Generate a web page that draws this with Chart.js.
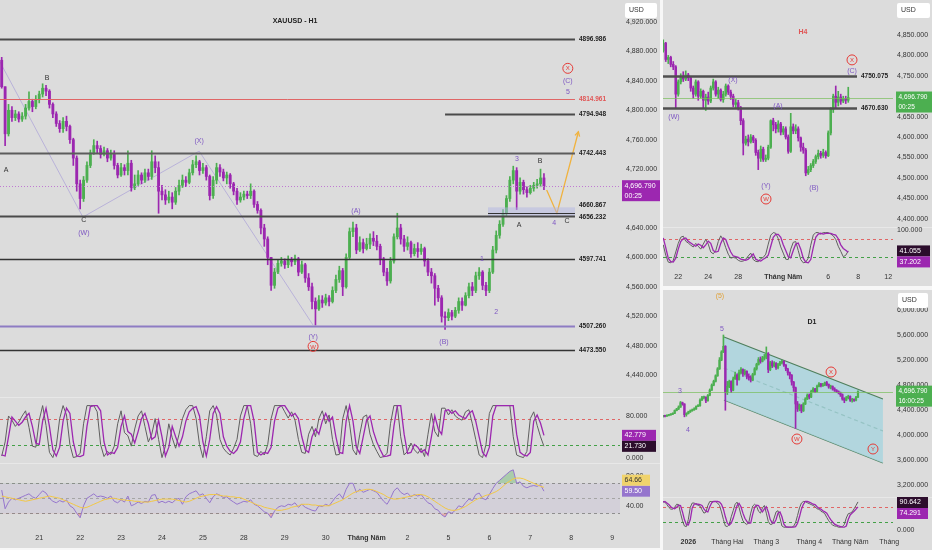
<!DOCTYPE html>
<html>
<head>
<meta charset="utf-8">
<title>XAUUSD</title>
<script src="https://cdn.jsdelivr.net/npm/chart.js@4.4.1/dist/chart.umd.min.js"></script>
<style>
  html, body { margin: 0; padding: 0; background: #fff; }
  #wrap { position: relative; width: 932px; height: 550px; overflow: hidden; background: #f7f7f7; }
  .pane { position: absolute; background: #dcdcdc; }
  .sep { position: absolute; height: 1px; background: #e8e8e8; }
  canvas { position: absolute; }
</style>
</head>
<body>
<div id="wrap">
  <div class="pane" style="left:0;top:0;width:660px;height:548px"></div>
  <div class="pane" style="left:663px;top:0;width:269px;height:286px"></div>
  <div class="pane" style="left:663px;top:290px;width:269px;height:260px"></div>
  <div class="sep" style="left:0;top:397px;width:660px"></div>
  <div class="sep" style="left:0;top:463px;width:660px"></div>
  <div class="sep" style="left:663px;top:227px;width:269px"></div>
  <div class="sep" style="left:663px;top:497px;width:269px"></div>
</div>
<script>
// ---------- H1 (main) ----------
const lastPrice = 4696.79;
const h1Open0 = 4868;
const h1Close = [4832,4768,4800,4790,4795,4788,4792,4803,4812,4805, 4815,4822,4830,4826,4808,4795,4782,4775,4785,4778,
  4760,4735,4700,4680,4705,4725,4742,4752,4748,4740, 4745,4735,4740,4725,4712,4722,4718,4728,4695,4700,
  4712,4705,4715,4710,4730,4722,4690,4685,4678,4682, 4675,4690,4698,4705,4702,4715,4726,4730,4718,4722,
  4710,4684,4705,4722,4716,4708,4712,4700,4690,4678, 4682,4686,4684,4690,4672,4664,4640,4625,4600,4562,
  4580,4592,4595,4590,4597,4594,4598,4580,4590,4572, 4560,4540,4530,4542,4538,4545,4540,4555,4570,4582,
  4560,4600,4635,4640,4610,4620,4612,4618,4626,4622, 4615,4598,4580,4568,4595,4628,4640,4625,4615,4620,
  4605,4612,4608,4612,4595,4580,4575,4558,4545,4520, 4518,4525,4520,4528,4540,4535,4548,4560,4555,4575,
  4580,4562,4555,4580,4610,4630,4645,4660,4680,4705, 4718,4690,4702,4692,4688,4694,4698,4700,4708,4696.79];
const h1High = [4872,4832,4808,4805,4800,4798,4797,4808,4825,4815, 4820,4826,4836,4834,4828,4810,4798,4786,4790,4792,
  4780,4762,4738,4705,4710,4730,4746,4760,4758,4752, 4750,4748,4746,4745,4728,4728,4726,4745,4732,4712,
  4718,4715,4720,4720,4745,4738,4730,4698,4692,4690, 4688,4695,4705,4712,4710,4720,4732,4738,4732,4728,
  4725,4712,4710,4728,4726,4720,4716,4714,4702,4694, 4688,4690,4690,4700,4692,4676,4666,4645,4628,4600,
  4585,4596,4600,4598,4602,4600,4603,4600,4595,4592, 4578,4565,4545,4548,4548,4550,4548,4560,4576,4588,
  4585,4605,4640,4648,4645,4628,4625,4626,4632,4635, 4630,4618,4600,4585,4600,4632,4660,4645,4630,4628,
  4622,4618,4620,4618,4614,4598,4585,4578,4562,4548, 4526,4530,4528,4532,4545,4545,4552,4565,4566,4580,
  4586,4582,4566,4585,4615,4636,4650,4665,4684,4710, 4724,4722,4708,4705,4696,4698,4702,4706,4720,4714];
const h1Low = [4830,4752,4765,4785,4786,4784,4785,4788,4800,4798, 4802,4810,4818,4820,4803,4790,4778,4770,4770,4772,
  4755,4725,4690,4666,4676,4702,4722,4740,4742,4735, 4738,4730,4732,4720,4708,4710,4712,4712,4690,4692,
  4698,4700,4702,4705,4706,4715,4660,4678,4672,4674, 4666,4672,4685,4695,4696,4700,4712,4722,4712,4714,
  4705,4678,4680,4700,4710,4704,4700,4694,4685,4672, 4675,4678,4680,4680,4668,4660,4632,4615,4590,4555,
  4558,4578,4588,4585,4586,4588,4590,4575,4578,4566, 4555,4530,4508,4528,4532,4535,4534,4538,4552,4566,
  4548,4558,4598,4628,4605,4608,4606,4610,4612,4616, 4610,4590,4575,4562,4565,4592,4625,4618,4608,4610,
  4600,4602,4600,4604,4588,4575,4565,4535,4540,4512, 4502,4514,4515,4518,4524,4528,4534,4545,4548,4552,
  4570,4556,4548,4552,4578,4606,4626,4642,4656,4676, 4700,4665,4686,4686,4682,4686,4690,4694,4696,4692];
const h1StochK = [3,30,80,72,60,68,80,90,58,22, 20,72,100,62,10,0,22,75,100,82, 25,0,2,8,65,100,100,100,88,25,
  2,12,6,22,65,90,48,42,22,55, 80,90,60,30,45,75,35,0,22,65, 38,18,45,75,92,100,100,75,25,0,
  40,90,100,82,35,18,10,5,18,35, 80,100,100,65,5,2,12,5,25,75, 100,100,100,88,76,88,72,35,10,8,
  45,60,40,75,90,65,82,35,5,6, 75,100,65,15,5,45,78,82,45,25, 12,0,2,8,65,100,100,40,5,12,
  28,15,8,18,2,45,85,50,40,95, 95,82,92,80,75,72,88,92,65,35, 5,0,25,85,100,100,100,100,100,100,
  40,5,2,0,12,75,88,62,40,21.73];
const h1StochD = [5,3,40,78,70,62,68,78,85,60, 28,25,70,95,60,15,3,20,70,95, 85,30,3,2,5,60,98,100,100,90,
  30,5,10,8,20,60,80,50,45,28, 50,75,85,65,35,40,72,40,3,20, 60,40,22,40,70,88,95,98,80,30,
  3,35,85,98,85,40,22,12,8,15, 30,75,100,100,70,10,5,10,8,20, 70,95,100,100,90,80,85,75,40,15,
  10,40,55,45,70,85,70,78,40,10, 8,70,100,70,20,8,40,72,80,50, 30,15,2,3,5,60,100,100,45,8,
  10,25,20,10,15,5,40,80,55,45, 90,92,85,90,82,78,75,85,90,70, 40,10,2,20,80,100,100,100,100,100,
  100,45,10,5,3,10,70,82,66,42.779];
const h1Rsi = [61,36,45,50,48,50,52,54,56,52, 50,55,60,57,50,46,44,47,45,48, 40,37,30,24,40,50,53,56,52,53,
  52,50,53,46,44,48,45,53,40,42, 45,43,46,45,54,55,44,46,44,46, 44,48,50,42,52,56,58,60,54,56,
  50,44,52,56,54,51,52,48,45,42, 44,46,45,48,42,40,36,32,30,24, 33,38,40,39,42,41,44,38,42,38,
  36,34,33,40,39,42,40,46,52,56, 50,62,70,70,58,62,58,60,62,60, 58,52,46,42,50,60,64,58,55,57,
  52,55,53,55,49,44,42,36,34,28, 25,32,30,34,40,38,44,49,47,55, 57,50,48,55,63,70,74,78,82,86,
  88,70,72,66,64,66,67,66,68,59.5];
const h1RsiMa = [53,52,51,50,49,48,47,46,47,48, 49,50,51,52,53,52,51,50,48,46, 44,42,40,38,37,38,40,42,44,46,
  48,49,50,50,49,48,48,47,47,46, 46,45,45,45,46,47,48,49,49,49, 49,48,47,46,45,46,48,50,52,53,
  54,55,55,55,54,53,53,52,52,51, 51,49,47,45,43,41,40,38,37,36, 35,34,34,35,36,38,39,40,42,42,
  42,41,41,40,40,40,40,42,44,46, 48,51,54,57,59,60,61,62,62,61, 59,57,55,52,50,49,49,50,51,52,
  53,54,55,55,54,52,49,46,43,40, 37,35,34,34,35,37,39,42,45,48, 50,52,54,55,57,59,62,66,70,73,
  76,77,77,76,74,72,70,68,66,64.66];
const h1DayIdx = [11,23,35,47,59,71,83,95,107,119,131,143,155,167,179];
const h1DayText = ['21','22','23','24','25','28','29','30','Tháng Năm','2','5','6','7','8','9'];
const h1PriceTicks = [4440,4480,4520,4560,4600,4640,4720,4760,4800,4840,4880,4920];
const levelPrice = [4896.986, 4814.961, 4794.948, 4742.443, 4660.867, 4656.232, 4597.741, 4507.260, 4473.550];
const levelFrom = [-0.5, -0.5, 130, -0.5, 142.6, -0.5, -0.5, -0.5, -0.5];
const levelTo = 168.1;
const zoneX = [142.6, 168.1], zoneY = [4655, 4668];
const waveX = [-0.5, 23.8, 57.9, 91.3], waveY = [4865.6, 4654.8, 4744.5, 4507.9];
const projX = [159.8, 162.8, 169.1], projY = [4691.5, 4659.8, 4770.8];
const h1LabText = ['A','B','C','(W)','(X)','(Y)','W','(A)','(B)','1','2','3','A','B','4','C','X','(C)','5'];
const h1LabX = [1.3,13.3,24.1,24.1,57.9,91.3,91.3,103.9,129.7,140.8,145,151.1,151.7,157.9,162,165.8,166,166,166];
const h1LabY = [4719,4844,4652,4634,4759,4492,4479,4663,4485,4599,4527,4735,4644,4732,4648,4650,4857,4841,4825];
const h1LabKind = ['d','d','d','p','p','p','c','p','p','p','p','p','d','d','p','d','c','p','p'];

// ---------- H4 ----------
const h4Open0 = 4812;
const h4Close = [4830,4790,4795,4778,4772,4705,4735,4748,4742,4752, 4745,4720,4705,4735,4700,4712,4690,4698,4688,4720,
  4735,4705,4715,4692,4705,4725,4710,4700,4680,4684, 4672,4640,4585,4595,4588,4600,4592,4562,4548,4570,
  4545,4548,4575,4640,4630,4620,4632,4612,4620,4600, 4565,4625,4615,4620,4598,4575,4568,4512,4520,4530,
  4540,4552,4560,4555,4562,4554,4610,4668,4700,4685, 4698,4688,4694,4690,4696.79];
const h4High = [4838,4832,4800,4798,4785,4775,4740,4755,4760,4762, 4756,4748,4725,4740,4738,4718,4715,4705,4710,4725,
  4742,4738,4722,4718,4712,4730,4728,4715,4705,4692, 4690,4675,4645,4602,4605,4606,4604,4596,4568,4578,
  4575,4556,4580,4642,4646,4636,4640,4636,4626,4625, 4605,4658,4632,4630,4625,4600,4585,4572,4528,4535,
  4545,4556,4568,4565,4570,4566,4615,4672,4705,4725, 4712,4705,4700,4700,4722];
const h4Low = [4808,4785,4780,4772,4765,4670,4700,4730,4736,4738, 4738,4712,4695,4700,4690,4696,4670,4665,4680,4684,
  4715,4700,4695,4688,4685,4700,4704,4692,4674,4670, 4666,4630,4556,4580,4578,4585,4586,4555,4520,4540,
  4540,4540,4544,4572,4615,4610,4612,4605,4606,4595, 4560,4562,4608,4608,4590,4565,4560,4505,4508,4515,
  4525,4535,4546,4548,4550,4548,4552,4605,4660,4672, 4676,4680,4684,4682,4685];
const h4StochK = [58,29,10,8,15,38,62,79,82,68, 63,57,52,62,54,46,60,73,60,38, 33,42,67,83,71,50,32,21,23,21,
  15,12,13,18,27,35,17,12,11,20, 23,32,60,85,92,90,75,52,35,18, 17,46,65,67,42,17,8,10,21,57,
  85,92,92,88,92,92,92,88,83,73, 54,40,25,29,41.055];
const h4StochD = [77,50,21,11,10,21,46,67,75,77, 68,63,58,54,60,57,50,58,68,62, 42,38,40,62,77,73,54,38,27,25,
  23,18,17,15,18,25,33,18,15,13, 18,22,29,54,79,87,87,79,58,42, 25,22,42,60,63,46,21,10,8,17,
  50,79,88,90,88,90,90,90,87,85, 75,58,48,43,37.202];
const h4DayIdx = [6,18,30,48,66,78,90];
const h4DayText = ['22','24','28','Tháng Năm','6','8','12'];
const h4PriceTicks = [4400,4450,4500,4550,4600,4650,4750,4800,4850];
const h4LevelPrice = [4750.075, 4670.630];
const h4LevelTo = 77.5;
const h4LabText = ['(W)','(X)','(A)','(Y)','W','(B)','X','(C)'];
const h4LabX = [4.3,27.9,45.9,41.1,41.1,60.3,75.5,75.5];
const h4LabY = [4649,4740,4678,4480,4448,4475,4789,4764];
const h4LabKind = ['p','p','p','p','c','p','c','p'];

// ---------- D1 ----------
const d1Open0 = 4300;
const d1Close = [4310,4305,4318,4325,4335,4350,4395,4420,4450,4520, 4500,4330,4345,4372,4390,4405,4420,4460,4470,4560,
  4600,4610,4550,4640,4720,4800,4860,4950,5060,5200, 5330,5420,4680,4780,4860,4720,4900,4960,4890,5000,
  5050,4980,5020,4940,4920,4880,4970,5060,5130,5210, 5180,5230,5250,5300,5050,5160,5110,5150,5080,5130,
  5160,5180,5120,5060,5000,4960,4850,4760,4500,4420, 4480,4390,4500,4580,4640,4610,4700,4740,4700,4780,
  4820,4790,4800,4840,4810,4770,4780,4740,4720,4700, 4680,4650,4580,4560,4600,4620,4560,4570,4560,4610, 4696.79];
const d1High = [4318,4320,4325,4332,4345,4360,4405,4430,4470,4540, 4530,4505,4360,4385,4405,4420,4440,4470,4490,4580,
  4620,4625,4615,4650,4740,4820,4880,4965,5080,5240, 5350,5600,5430,4860,4880,4870,4930,5010,4980,5040,
  5080,5060,5050,5030,4980,4950,4990,5080,5150,5240, 5250,5260,5290,5410,5320,5180,5190,5175,5160,5150,
  5180,5200,5190,5130,5070,5010,4970,4860,4770,4540, 4500,4490,4520,4600,4660,4660,4720,4760,4750,4800,
  4840,4830,4830,4850,4860,4820,4800,4790,4760,4730, 4710,4690,4660,4600,4620,4640,4630,4590,4580,4620, 4710];
const d1Low = [4290,4295,4300,4310,4320,4330,4345,4390,4410,4445, 4480,4295,4305,4340,4365,4385,4400,4415,4455,4465,
  4555,4580,4520,4545,4630,4715,4790,4850,4940,5050, 5190,5320,4400,4650,4760,4680,4710,4890,4800,4880,
  4980,4940,4960,4900,4880,4850,4870,4960,5040,5120, 5150,5170,5200,5220,5000,5030,5080,5090,5050,5060,
  5110,5140,5100,5030,4960,4900,4800,4700,4110,4380, 4390,4360,4380,4490,4570,4580,4600,4690,4680,4690,
  4770,4770,4780,4790,4790,4750,4740,4720,4700,4680, 4660,4620,4560,4520,4550,4580,4540,4530,4540,4550, 4600];
const d1StochK = [92,90,82,73,67,67,73,83,82,54, 29,12,10,33,73,87,87,82,80,77, 65,54,57,79,92,92,92,92,87,79,
  58,33,12,10,17,42,62,83,90,73, 48,29,21,17,23,54,77,83,77,60, 54,71,79,54,27,17,18,38,58,62,
  38,12,8,8,8,8,8,11,23,46, 71,87,92,92,88,85,82,79,75,68, 67,60,57,52,40,29,21,15,12,11,
  8,8,10,17,38,52,54,58,68,79, 90.642];
const d1StochD = [90,92,87,82,75,70,68,73,80,79, 58,33,17,15,33,71,83,85,83,82, 79,68,60,58,75,88,92,92,92,90,
  83,67,42,21,15,21,37,58,79,86, 75,54,37,27,21,22,50,73,80,79, 67,58,68,75,58,33,23,21,33,54,
  58,42,18,10,8,8,8,8,10,21, 42,67,83,92,92,90,87,83,82,75, 70,67,62,58,54,43,33,25,18,15,
  12,10,8,8,12,33,48,54,60,67, 74.291];
const d1MonthIdx = [13,33,53,75,96,116];
const d1MonthText = ['2026','Tháng Hai','Tháng 3','Tháng 4','Tháng Năm','Tháng'];
const d1PriceTicks = [3200,3600,4000,4400,4800,5200,5600,6000];
const chanX = [31.3, 112.8];
const chanUpY = [5568, 4579], chanMidY = [5074, 4069], chanLowY = [4563, 3558];
const d1LabText = ['(5)','5','3','4','W','X','Y'];
const d1LabX = [29.2,30.3,8.7,12.8,68.7,86.2,107.7];
const d1LabY = [6222,5696,4707,4085,3941,5010,3782];
const d1LabKind = ['o','p','p','p','c','c','c'];

// ---------- helpers ----------
const FONT = "'Liberation Sans', Arial, sans-serif";
const UP = '#4caf50', DOWN = '#9c27b0', RED = '#e53935';
const LABEL_COLORS = { p: '#7e57c2', d: '#333333', o: '#e0a23a' };
const wrap = document.getElementById('wrap');

function mk(left, top, w, h, cfg) {
  const c = document.createElement('canvas');
  c.width = w; c.height = h;
  c.style.cssText = 'left:' + left + 'px;top:' + top + 'px;width:' + w + 'px;height:' + h + 'px';
  wrap.appendChild(c);
  cfg.options.responsive = false;
  cfg.options.animation = false;
  cfg.options.events = [];
  cfg.options.layout = { padding: 0 };
  cfg.options.plugins = { legend: { display: false }, tooltip: { enabled: false } };
  return new Chart(c, cfg);
}

function yAxis(min, max, ticks, fmt, width, pad) {
  return {
    position: 'right', min: min, max: max,
    grid: { display: false, drawTicks: false }, border: { display: false },
    ticks: { color: '#333', font: { family: FONT, size: 7 }, padding: pad, autoSkip: false, callback: fmt },
    afterBuildTicks: s => { s.ticks = ticks.map(v => ({ value: v })); },
    afterFit: s => { s.width = width; s.paddingTop = 0; s.paddingBottom = 0; }
  };
}

function xAxis(min, max, show, idx, text, bold, pad, height) {
  return {
    type: 'linear', min: min, max: max, offset: false, display: show,
    grid: { display: false, drawTicks: false }, border: { display: false },
    ticks: {
      color: '#333', padding: pad, maxRotation: 0, autoSkip: false,
      font: c => ({ family: FONT, size: 7, weight: c.tick && bold.includes(c.tick.value) ? 'bold' : 'normal' }),
      callback: v => text[idx.indexOf(v)]
    },
    afterBuildTicks: s => { s.ticks = idx.map(v => ({ value: v })); },
    afterFit: s => { if (show) s.height = height; s.paddingLeft = 0; s.paddingRight = 0; }
  };
}

function candles(open0, close, high, low, body) {
  const open = close.map((c, i) => (i ? close[i - 1] : open0));
  const col = close.map((c, i) => (c >= open[i] ? UP : DOWN));
  return [
    { type: 'bar', data: close.map((c, i) => ({ x: i, y: [low[i], high[i]] })), backgroundColor: col,
      barThickness: 1, grouped: false, order: 2 },
    { type: 'bar', data: close.map((c, i) => ({ x: i, y: [open[i], c] })), backgroundColor: col,
      barThickness: body, grouped: false, minBarLength: 1, order: 1 }
  ];
}

const ser = arr => arr.map((v, i) => ({ x: i, y: v }));
const pts = (xs, ys) => xs.map((x, i) => ({ x: x, y: ys[i] }));
function line(data, color, width, extra) {
  return Object.assign({ type: 'line', data: data, borderColor: color, borderWidth: width,
    pointRadius: 0, tension: 0, fill: false }, extra || {});
}
const fmtPrice = v => v.toLocaleString('en-US', { minimumFractionDigits: 3, maximumFractionDigits: 3 });

function hline(ctx, x0, x1, y, color, width, dash) {
  ctx.save();
  ctx.strokeStyle = color; ctx.lineWidth = width; ctx.setLineDash(dash || []);
  ctx.beginPath(); ctx.moveTo(x0, y); ctx.lineTo(x1, y); ctx.stroke();
  ctx.restore();
}

function tag(ctx, x, y, w, h, bg, fg, lines, size) {
  ctx.save();
  ctx.fillStyle = bg; ctx.fillRect(x, y, w, h);
  ctx.fillStyle = fg; ctx.font = (size || 7) + 'px ' + FONT; ctx.textAlign = 'left'; ctx.textBaseline = 'middle';
  lines.forEach((t, k) => ctx.fillText(t, x + 2.5, y + 5.5 + k * 10));
  ctx.restore();
}

function usdBox(chart, dx, w) {
  const ctx = chart.ctx, x = chart.chartArea.right + dx;
  ctx.save();
  ctx.fillStyle = '#ffffff';
  ctx.beginPath(); ctx.roundRect(x, 3, w, 15, 2); ctx.fill();
  ctx.fillStyle = '#333'; ctx.font = '7px ' + FONT; ctx.textBaseline = 'middle';
  ctx.fillText('USD', x + 4, 10.5);
  ctx.restore();
}

function priceTag(chart, dx, w, bg, lines, size) {
  const py = chart.scales.y.getPixelForValue(lastPrice);
  tag(chart.ctx, chart.chartArea.right + dx, py - 6, w, 21, bg, '#fff', lines, size);
}

// first value keeps its place, second is pushed away when they overlap
function pairTags(chart, vals, bgs, fgs, dx, w, digits) {
  const s = chart.scales.y, a = chart.chartArea, h = 11;
  let y0 = Math.max(s.getPixelForValue(vals[0]), a.top + h / 2);
  let y1 = s.getPixelForValue(vals[1]);
  if (Math.abs(y1 - y0) < h) y1 = vals[1] < vals[0] ? y0 + h : y0 - h;
  tag(chart.ctx, a.right + dx, y0 - h / 2, w, h, bgs[0], fgs[0], [vals[0].toFixed(digits)]);
  tag(chart.ctx, a.right + dx, y1 - h / 2, w, h, bgs[1], fgs[1], [vals[1].toFixed(digits)]);
}

function bandLines(chart, vals, colors) {
  const a = chart.chartArea, s = chart.scales.y;
  vals.forEach((v, k) => hline(chart.ctx, a.left, a.right, Math.round(s.getPixelForValue(v)) + 0.5, colors[k], 1, [3, 3]));
}

function waveLabels(chart, texts, xs, ys, kinds) {
  const ctx = chart.ctx, x = chart.scales.x, y = chart.scales.y;
  ctx.save(); ctx.textAlign = 'center'; ctx.textBaseline = 'middle';
  texts.forEach((t, k) => {
    const px = x.getPixelForValue(xs[k]), py = y.getPixelForValue(ys[k]);
    if (kinds[k] === 'c') {
      ctx.strokeStyle = RED; ctx.lineWidth = 1;
      ctx.beginPath(); ctx.arc(px, py, 5, 0, Math.PI * 2); ctx.stroke();
      ctx.fillStyle = RED; ctx.font = '6px ' + FONT;
    } else {
      ctx.fillStyle = LABEL_COLORS[kinds[k]]; ctx.font = '7px ' + FONT;
    }
    ctx.fillText(t, px, py + 0.5);
  });
  ctx.restore();
}

function levelLines(chart, prices, from, to, styles, textColors, textDy) {
  const ctx = chart.ctx, x = chart.scales.x, y = chart.scales.y;
  prices.forEach((p, k) => {
    const py = Math.round(y.getPixelForValue(p)) + 0.5;
    hline(ctx, x.getPixelForValue(from[k]), x.getPixelForValue(to), py, styles[k][0], styles[k][1]);
    ctx.save();
    ctx.fillStyle = textColors[k]; ctx.font = 'bold 6.5px ' + FONT; ctx.textBaseline = 'middle';
    ctx.fillText(p.toFixed(3), x.getPixelForValue(to) + 4, py + (textDy ? textDy[k] : 0));
    ctx.restore();
  });
}

function title(chart, text, px, py, color) {
  const ctx = chart.ctx;
  ctx.save(); ctx.fillStyle = color; ctx.font = 'bold 7px ' + FONT;
  ctx.textAlign = 'center'; ctx.textBaseline = 'middle';
  ctx.fillText(text, chart.chartArea.left + px, py);
  ctx.restore();
}

// ---------- H1 price ----------
const H1X = [-0.5, 181.3];
mk(0, 0, 660, 397, {
  type: 'bar',
  data: { datasets: [
    line(pts(waveX, waveY), '#b9b2d9', 1, { order: 3 }),
    ...candles(h1Open0, h1Close, h1High, h1Low, 2.2),
    line(pts(projX, projY), '#f0b23e', 1.3, { order: 0 })
  ] },
  options: {
    scales: {
      x: xAxis(H1X[0], H1X[1], false, h1DayIdx, h1DayText, [], 0, 0),
      y: yAxis(4410.2, 4949.9, h1PriceTicks, fmtPrice, 40, 6)
    }
  },
  plugins: [{
    id: 'h1draw',
    afterDatasetsDraw(chart) {
      const ctx = chart.ctx, a = chart.chartArea, x = chart.scales.x, y = chart.scales.y;
      const zx0 = x.getPixelForValue(zoneX[0]), zx1 = x.getPixelForValue(zoneX[1]);
      const zy0 = y.getPixelForValue(zoneY[1]), zy1 = y.getPixelForValue(zoneY[0]);
      ctx.fillStyle = 'rgba(178,182,228,0.5)';
      ctx.fillRect(zx0, zy0, zx1 - zx0, zy1 - zy0);
      hline(ctx, a.left, a.right, Math.round(y.getPixelForValue(lastPrice)) + 0.5, '#c07ad2', 1, [1, 2]);
      levelLines(chart, levelPrice, levelFrom, levelTo,
        [['#4a4a4a', 2], ['#e06666', 1], ['#4a4a4a', 2], ['#5c5c5c', 2], ['#333', 1], ['#4a4a4a', 2],
         ['#333', 1.5], ['#8e7cc3', 2], ['#333', 1.5]],
        ['#222', '#e05555', '#222', '#222', '#222', '#222', '#222', '#222', '#222'],
        [0, 0, 0, 0, -8, 1, 0, 0, 0]);
      const n = projX.length;
      const ax = x.getPixelForValue(projX[n - 1]), ay = y.getPixelForValue(projY[n - 1]);
      const ang = Math.atan2(ay - y.getPixelForValue(projY[n - 2]), ax - x.getPixelForValue(projX[n - 2]));
      ctx.save(); ctx.strokeStyle = '#f0b23e'; ctx.lineWidth = 1.3;
      ctx.beginPath();
      ctx.moveTo(ax - 5 * Math.cos(ang - 0.5), ay - 5 * Math.sin(ang - 0.5));
      ctx.lineTo(ax, ay);
      ctx.lineTo(ax - 5 * Math.cos(ang + 0.5), ay - 5 * Math.sin(ang + 0.5));
      ctx.stroke(); ctx.restore();
      waveLabels(chart, h1LabText, h1LabX, h1LabY, h1LabKind);
      title(chart, 'XAUUSD - H1', 295, 21, '#222');
    },
    afterDraw(chart) {
      usdBox(chart, 5, 32);
      priceTag(chart, 2, 38, '#9c27b0', [fmtPrice(lastPrice), '00:25']);
    }
  }]
});

// ---------- H1 stochastic ----------
mk(0, 397, 660, 66, {
  type: 'line',
  data: { datasets: [
    line(ser(h1StochK), '#5f5f5f', 1, { order: 1 }),
    line(ser(h1StochD), '#9c27b0', 1.3, { order: 0 })
  ] },
  options: {
    scales: {
      x: xAxis(H1X[0], H1X[1], false, h1DayIdx, h1DayText, [], 0, 0),
      y: yAxis(-10.4, 116.5, [0, 80], v => v.toFixed(3), 40, 6)
    }
  },
  plugins: [{
    id: 'h1stoch',
    beforeDatasetsDraw(chart) { bandLines(chart, [75, 25], ['#e06666', '#43a047']); },
    afterDraw(chart) {
      pairTags(chart, [h1StochD[h1StochD.length - 1], h1StochK[h1StochK.length - 1]],
        ['#9c27b0', '#2c0d2c'], ['#fff', '#fff'], 2, 34, 3);
    }
  }]
});

// ---------- H1 RSI ----------
mk(0, 463, 660, 85, {
  type: 'line',
  data: { datasets: [
    line(ser(h1Rsi), '#9575cd', 1, { order: 1,
      fill: { target: { value: 70 }, above: 'rgba(76,175,80,0.35)', below: 'rgba(0,0,0,0)' } }),
    line(ser(h1Rsi), 'rgba(0,0,0,0)', 0, { order: 2,
      fill: { target: { value: 30 }, above: 'rgba(0,0,0,0)', below: 'rgba(239,83,80,0.35)' } }),
    line(ser(h1RsiMa), '#f2c744', 1, { order: 0 })
  ] },
  options: {
    scales: {
      x: xAxis(H1X[0], H1X[1], true, h1DayIdx, h1DayText, [107], 4, 18),
      y: yAxis(7.7, 97.1, [40, 80], v => v.toFixed(2), 40, 6)
    }
  },
  plugins: [{
    id: 'h1rsi',
    beforeDatasetsDraw(chart) {
      const a = chart.chartArea, s = chart.scales.y;
      chart.ctx.fillStyle = 'rgba(126,87,194,0.09)';
      chart.ctx.fillRect(a.left, s.getPixelForValue(70), a.right - a.left, s.getPixelForValue(30) - s.getPixelForValue(70));
      bandLines(chart, [70, 50, 30], ['#8f8f8f', '#a5a5a5', '#8f8f8f']);
    },
    afterDraw(chart) {
      pairTags(chart, [h1Rsi[h1Rsi.length - 1], h1RsiMa[h1RsiMa.length - 1]],
        ['#9575cd', '#f0d36c'], ['#fff', '#333'], 2, 28, 2);
    }
  }]
});

// ---------- H4 price ----------
const H4X = [-0.1, 91.9];
mk(663, 0, 269, 227, {
  type: 'bar',
  data: { datasets: candles(h4Open0, h4Close, h4High, h4Low, 1.9) },
  options: {
    scales: {
      x: xAxis(H4X[0], H4X[1], false, h4DayIdx, h4DayText, [], 0, 0),
      y: yAxis(4379.4, 4935.8, h4PriceTicks, fmtPrice, 39, 4)
    }
  },
  plugins: [{
    id: 'h4draw',
    afterDatasetsDraw(chart) {
      const a = chart.chartArea, y = chart.scales.y;
      hline(chart.ctx, a.left, a.right, Math.round(y.getPixelForValue(lastPrice)) + 0.5, 'rgba(120,190,90,0.7)', 1);
      levelLines(chart, h4LevelPrice, [H4X[0], H4X[0]], h4LevelTo, [['#505050', 2.5], ['#505050', 2.5]], ['#222', '#222']);
      waveLabels(chart, h4LabText, h4LabX, h4LabY, h4LabKind);
      title(chart, 'H4', 140, 32, '#e05555');
    },
    afterDraw(chart) {
      usdBox(chart, 4, 33);
      priceTag(chart, 3, 36, '#4caf50', [fmtPrice(lastPrice), '00:25'], 6.5);
    }
  }]
});

// ---------- H4 stochastic ----------
mk(663, 227, 269, 59, {
  type: 'line',
  data: { datasets: [
    line(ser(h4StochK), '#5f5f5f', 1, { order: 1 }),
    line(ser(h4StochD), '#9c27b0', 1.3, { order: 0 })
  ] },
  options: {
    scales: {
      x: xAxis(H4X[0], H4X[1], true, h4DayIdx, h4DayText, [48], 5, 18),
      y: yAxis(-6.4, 107.5, [100], v => v.toFixed(3), 39, 4)
    }
  },
  plugins: [{
    id: 'h4stoch',
    beforeDatasetsDraw(chart) { bandLines(chart, [75, 25], ['#e06666', '#43a047']); },
    afterDraw(chart) {
      pairTags(chart, [h4StochK[h4StochK.length - 1], h4StochD[h4StochD.length - 1]],
        ['#2c0d2c', '#9c27b0'], ['#fff', '#fff'], 4, 33, 3);
    }
  }]
});

// ---------- D1 price ----------
const D1X = [0.013, 117.96];
mk(663, 290, 269, 207, {
  type: 'bar',
  data: { datasets: [
    line(pts(chanX, chanUpY), '#4f7f5c', 1.2, { order: 5, fill: { target: '+2', above: 'rgba(168,212,222,0.8)', below: 'rgba(168,212,222,0.8)' } }),
    line(pts(chanX, chanMidY), '#4f7f5c', 1.2, { order: 5, borderDash: [4, 3] }),
    line(pts(chanX, chanLowY), '#4f7f5c', 1.2, { order: 5 }),
    ...candles(d1Open0, d1Close, d1High, d1Low, 1.6)
  ] },
  options: {
    scales: {
      x: xAxis(D1X[0], D1X[1], false, d1MonthIdx, d1MonthText, [], 0, 0),
      y: yAxis(3016.3, 6317.7, d1PriceTicks, fmtPrice, 39, 4)
    }
  },
  plugins: [{
    id: 'd1draw',
    afterDatasetsDraw(chart) {
      const a = chart.chartArea, y = chart.scales.y;
      hline(chart.ctx, a.left, a.right, Math.round(y.getPixelForValue(lastPrice)) + 0.5, 'rgba(120,190,90,0.7)', 1);
      waveLabels(chart, d1LabText, d1LabX, d1LabY, d1LabKind);
      title(chart, 'D1', 149, 32, '#222');
    },
    afterDraw(chart) {
      usdBox(chart, 5, 30);
      priceTag(chart, 3, 36, '#4caf50', [fmtPrice(lastPrice), '16:00:25'], 6.5);
    }
  }]
});

// ---------- D1 stochastic ----------
mk(663, 497, 269, 53, {
  type: 'line',
  data: { datasets: [
    line(ser(d1StochK), '#5f5f5f', 1, { order: 1 }),
    line(ser(d1StochD), '#9c27b0', 1.3, { order: 0 })
  ] },
  options: {
    scales: {
      x: xAxis(D1X[0], D1X[1], true, d1MonthIdx, d1MonthText, [13], 2, 14),
      y: yAxis(-20.75, 106.7, [0], v => v.toFixed(3), 39, 4)
    }
  },
  plugins: [{
    id: 'd1stoch',
    beforeDatasetsDraw(chart) { bandLines(chart, [75, 25], ['#e06666', '#43a047']); },
    afterDraw(chart) {
      pairTags(chart, [d1StochK[d1StochK.length - 1], d1StochD[d1StochD.length - 1]],
        ['#2c0d2c', '#9c27b0'], ['#fff', '#fff'], 4, 31, 3);
    }
  }]
});
</script>
</body>
</html>
